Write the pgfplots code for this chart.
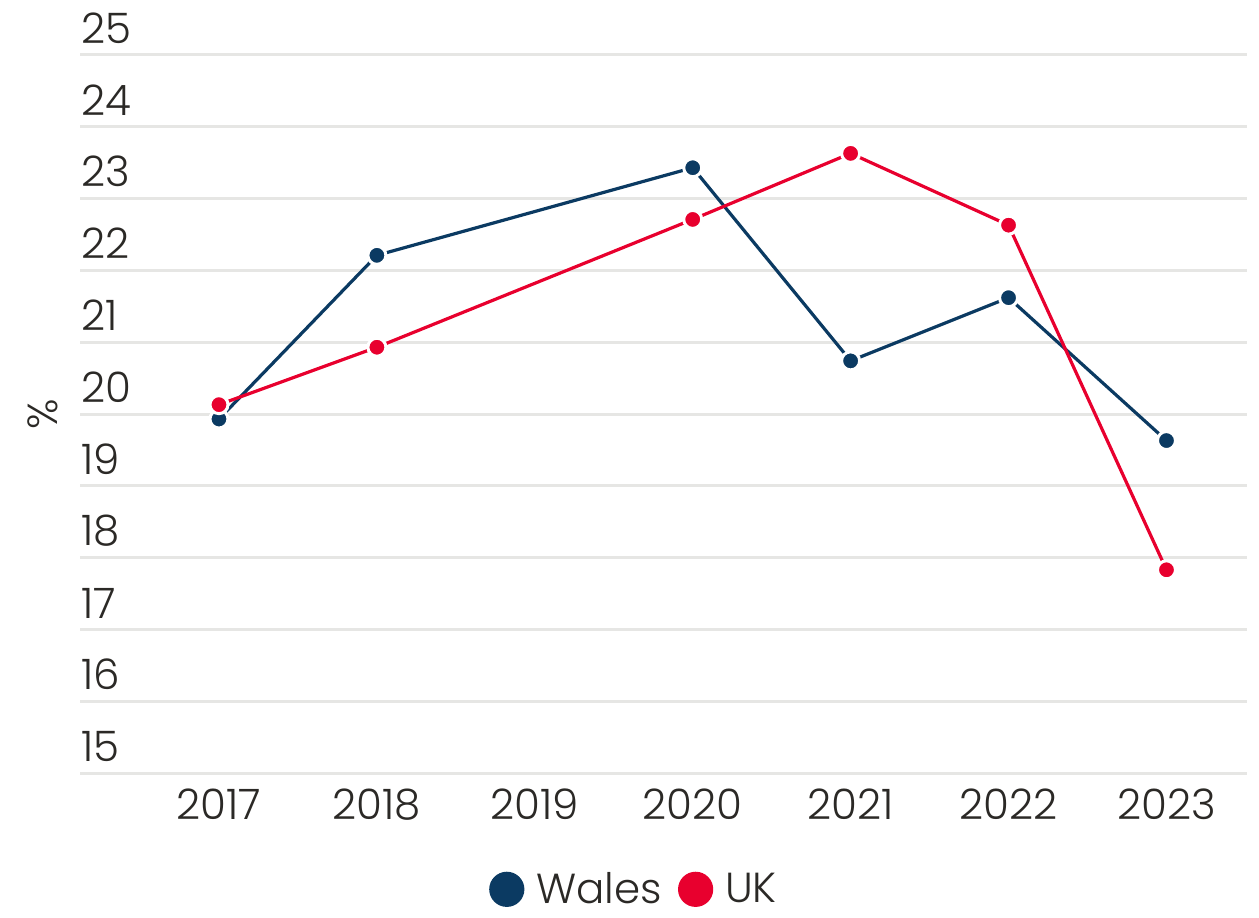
\documentclass[border=0pt]{standalone}
\usepackage{pgfplots}
\pgfplotsset{compat=1.18}
\usepackage{fontspec}
\setmainfont{Poppins Light}
\definecolor{walesblue}{HTML}{0B3A62}
\definecolor{ukred}{HTML}{E8002E}
\definecolor{txt}{HTML}{2B2926}
\definecolor{gridc}{HTML}{E6E6E4}
\begin{document}
\begin{tikzpicture}
\useasboundingbox (0,0) rectangle (629.5pt,458.5pt);
\begin{axis}[
  at={(40pt,72pt)}, anchor=south west,
  scale only axis, width=583.5pt, height=359pt,
  xmin=2016.12, xmax=2023.51, ymin=15, ymax=25,
  axis line style={draw=none},
  xtick={2017,2018,2019,2020,2021,2022,2023},
  xticklabels={2017,2018,2019,2020,2021,2022,2023},
  ytick={15,16,...,25},
  major tick length=0pt,
  ymajorgrids, grid style={gridc, line width=1.5pt},
  font=\fontsize{21}{25}\selectfont,
  /pgf/number format/assume math mode=true,
  tick label style={text=txt},
  yticklabel style={anchor=south west, inner sep=0pt, xshift=0.5pt, yshift=5.5pt},
  xticklabel style={anchor=north, inner sep=0pt, yshift=-7.5pt},
  ylabel={\%}, ylabel style={at={(rel axis cs:0,0.5)}, anchor=center, yshift=18.5pt, text=txt},
  legend columns=2,
  legend style={draw=none, fill=none, at={(0.4756,-0.162)}, anchor=center, text=txt,
    nodes={inner ysep=1pt},
    /tikz/every odd column/.append style={column sep=4pt},
    /tikz/every even column/.append style={column sep=6pt}},
  every axis plot/.append style={line width=1.6pt, mark=*, mark size=4.5pt},
]
\addplot[walesblue, mark options={draw=white, fill=walesblue, line width=1.5pt}, legend image code/.code={\fill[walesblue] (0.2cm,0cm) circle (8pt);}] coordinates {
 (2017,19.93) (2018,22.21) (2020,23.43) (2021,20.74) (2022,21.62) (2023,19.63)};
\addlegendentry{Wales}
\addplot[ukred, mark options={draw=white, fill=ukred, line width=1.5pt}, legend image code/.code={\fill[ukred] (0.2cm,0cm) circle (8pt);}] coordinates {
 (2017,20.13) (2018,20.93) (2020,22.71) (2021,23.63) (2022,22.63) (2023,17.83)};
\addlegendentry{UK}
\end{axis}
\end{tikzpicture}
\end{document}
